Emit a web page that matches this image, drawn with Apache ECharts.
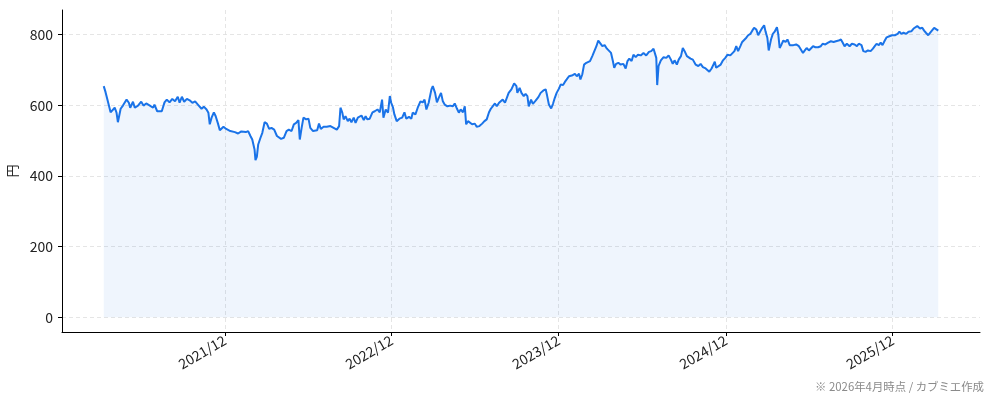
<!DOCTYPE html>
<html>
<head>
<meta charset="utf-8">
<script src="https://cdn.jsdelivr.net/npm/echarts@6/dist/echarts.min.js"></script>
<style>
html,body{margin:0;padding:0;background:#fff;}
#chart{width:994px;height:401px;}
</style>
</head>
<body>
<div id="chart"></div>
<script>
const dates = ['2021-03-11','2021-03-15','2021-03-20','2021-03-23','2021-03-26','2021-03-30','2021-04-04','2021-04-08','2021-04-11','2021-04-17','2021-04-22','2021-04-30','2021-05-05','2021-05-08','2021-05-14','2021-05-18','2021-05-25','2021-06-01','2021-06-06','2021-06-12','2021-06-20','2021-06-27','2021-06-30','2021-07-06','2021-07-10','2021-07-16','2021-07-22','2021-07-27','2021-08-02','2021-08-08','2021-08-14','2021-08-20','2021-08-24','2021-08-29','2021-09-03','2021-09-09','2021-09-15','2021-09-21','2021-09-27','2021-10-03','2021-10-07','2021-10-11','2021-10-16','2021-10-22','2021-10-26','2021-10-29','2021-11-02','2021-11-07','2021-11-11','2021-11-16','2021-11-20','2021-11-28','2021-12-04','2021-12-13','2021-12-23','2021-12-30','2022-01-06','2022-01-10','2022-01-16','2022-01-21','2022-01-26','2022-01-30','2022-02-04','2022-02-06','2022-02-09','2022-02-12','2022-02-17','2022-02-21','2022-02-26','2022-03-03','2022-03-08','2022-03-13','2022-03-19','2022-03-25','2022-03-29','2022-04-03','2022-04-09','2022-04-15','2022-04-20','2022-04-26','2022-05-01','2022-05-06','2022-05-11','2022-05-14','2022-05-18','2022-05-22','2022-05-28','2022-06-02','2022-06-06','2022-06-12','2022-06-16','2022-06-21','2022-06-25','2022-06-29','2022-07-05','2022-07-12','2022-07-20','2022-07-27','2022-08-03','2022-08-08','2022-08-11','2022-08-15','2022-08-18','2022-08-22','2022-08-27','2022-08-31','2022-09-04','2022-09-09','2022-09-13','2022-09-18','2022-09-22','2022-09-26','2022-10-01','2022-10-05','2022-10-09','2022-10-14','2022-10-20','2022-10-25','2022-10-31','2022-11-05','2022-11-10','2022-11-13','2022-11-18','2022-11-23','2022-11-27','2022-11-30','2022-12-04','2022-12-07','2022-12-12','2022-12-18','2022-12-24','2022-12-29','2023-01-02','2023-01-08','2023-01-13','2023-01-16','2023-01-22','2023-01-27','2023-02-02','2023-02-07','2023-02-11','2023-02-15','2023-02-20','2023-02-26','2023-03-01','2023-03-06','2023-03-10','2023-03-14','2023-03-19','2023-03-23','2023-03-27','2023-04-02','2023-04-08','2023-04-14','2023-04-18','2023-04-23','2023-04-27','2023-05-01','2023-05-06','2023-05-10','2023-05-13','2023-05-17','2023-05-20','2023-05-26','2023-06-01','2023-06-05','2023-06-11','2023-06-17','2023-06-22','2023-06-27','2023-07-02','2023-07-06','2023-07-10','2023-07-15','2023-07-19','2023-07-24','2023-07-28','2023-08-01','2023-08-06','2023-08-10','2023-08-14','2023-08-20','2023-08-26','2023-08-31','2023-09-02','2023-09-07','2023-09-11','2023-09-16','2023-09-20','2023-09-24','2023-09-27','2023-10-02','2023-10-06','2023-10-12','2023-10-18','2023-10-23','2023-10-29','2023-11-03','2023-11-06','2023-11-10','2023-11-15','2023-11-19','2023-11-23','2023-11-27','2023-12-02','2023-12-06','2023-12-11','2023-12-15','2023-12-19','2023-12-24','2023-12-28','2024-01-01','2024-01-06','2024-01-10','2024-01-15','2024-01-18','2024-01-22','2024-01-26','2024-01-31','2024-02-04','2024-02-08','2024-02-13','2024-02-17','2024-02-22','2024-02-26','2024-03-01','2024-03-06','2024-03-11','2024-03-16','2024-03-20','2024-03-25','2024-03-29','2024-04-01','2024-04-05','2024-04-10','2024-04-15','2024-04-21','2024-04-26','2024-04-30','2024-05-04','2024-05-09','2024-05-13','2024-05-18','2024-05-23','2024-05-29','2024-06-04','2024-06-10','2024-06-16','2024-06-21','2024-06-26','2024-06-30','2024-07-02','2024-07-04','2024-07-07','2024-07-12','2024-07-18','2024-07-24','2024-07-29','2024-08-03','2024-08-07','2024-08-11','2024-08-16','2024-08-20','2024-08-25','2024-08-29','2024-09-02','2024-09-07','2024-09-11','2024-09-15','2024-09-20','2024-09-26','2024-10-02','2024-10-07','2024-10-12','2024-10-18','2024-10-22','2024-10-26','2024-10-31','2024-11-04','2024-11-07','2024-11-10','2024-11-14','2024-11-20','2024-11-25','2024-11-30','2024-12-05','2024-12-11','2024-12-15','2024-12-20','2024-12-24','2024-12-28','2025-01-02','2025-01-06','2025-01-10','2025-01-15','2025-01-19','2025-01-24','2025-01-28','2025-02-01','2025-02-06','2025-02-10','2025-02-14','2025-02-19','2025-02-23','2025-02-26','2025-03-02','2025-03-05','2025-03-10','2025-03-14','2025-03-18','2025-03-23','2025-03-26','2025-03-29','2025-04-02','2025-04-06','2025-04-11','2025-04-15','2025-04-20','2025-04-24','2025-04-28','2025-05-04','2025-05-10','2025-05-14','2025-05-19','2025-05-23','2025-05-27','2025-06-01','2025-06-05','2025-06-10','2025-06-15','2025-06-21','2025-06-27','2025-07-01','2025-07-07','2025-07-13','2025-07-19','2025-07-25','2025-07-30','2025-08-05','2025-08-10','2025-08-14','2025-08-18','2025-08-23','2025-08-29','2025-09-03','2025-09-09','2025-09-14','2025-09-18','2025-09-24','2025-09-28','2025-10-03','2025-10-08','2025-10-14','2025-10-19','2025-10-23','2025-10-27','2025-11-01','2025-11-05','2025-11-09','2025-11-14','2025-11-18','2025-11-24','2025-11-30','2025-12-06','2025-12-12','2025-12-16','2025-12-20','2025-12-25','2025-12-31','2026-01-05','2026-01-11','2026-01-16','2026-01-20','2026-01-24','2026-01-27','2026-01-30','2026-02-04','2026-02-08','2026-02-12','2026-02-17','2026-02-21','2026-02-25','2026-03-02','2026-03-06','2026-03-11'];

const prices = [654,637,611,607,580,583,593,579,552,590,599,616,607,593,610,593,599,610,599,605,599,593,602,583,588,583,608,616,608,618,611,624,607,624,610,618,614,607,611,602,599,590,596,588,579,546,565,580,569,548,529,539,533,527,524,520,526,529,524,527,513,503,475,445,454,489,508,522,552,548,533,536,531,513,517,505,508,527,531,527,546,550,558,503,536,565,560,562,536,527,522,529,548,533,539,539,541,536,531,541,593,579,560,569,555,562,552,565,550,565,560,571,558,569,560,562,580,583,588,580,616,565,588,579,626,607,593,574,555,562,565,580,562,567,562,579,574,593,611,608,616,588,607,645,654,635,608,621,635,611,602,597,599,597,605,590,579,588,580,597,546,555,550,546,548,539,541,548,555,560,580,590,597,605,597,607,608,616,607,605,635,645,662,654,635,649,635,626,632,626,597,616,604,613,623,635,642,645,628,602,591,604,621,635,647,659,657,666,673,682,687,685,689,682,689,673,687,715,720,717,725,739,743,767,783,779,767,770,760,755,748,725,706,717,720,715,717,704,725,732,725,743,736,743,741,748,741,751,753,760,764,734,657,711,727,736,734,741,729,717,727,715,729,739,762,753,739,741,732,729,715,711,717,708,704,706,695,704,715,723,706,711,715,727,734,743,741,739,753,767,753,767,779,783,791,798,802,811,819,814,798,808,819,826,809,791,755,786,802,808,821,800,762,772,783,779,786,770,774,770,772,767,762,748,755,762,755,758,767,764,764,767,774,772,777,781,779,781,783,786,777,767,774,767,774,772,767,774,770,753,751,755,753,760,767,774,770,777,770,783,792,795,798,798,802,808,802,805,802,808,809,817,817,824,828,817,819,811,805,798,802,811,819,817,811];

const xTickDates = ['2021-12-01','2022-12-01','2023-12-01','2024-12-01','2025-12-01'];
const xTickLabels = ['2021/12','2022/12','2023/12','2024/12','2025/12'];
const yTicks = [0,200,400,600,800];
const yAxisName = '円';
const footnote = '※ 2026年4月時点 / カブミエ作成';

function ts(s){const p=s.split('-').map(Number);return new Date(p[0],p[1]-1,p[2]).getTime();}
const seriesData = dates.map((d,i)=>[ts(d),prices[i]]);
const t0 = ts(dates[0]), t1 = ts(dates[dates.length-1]);
const span = t1 - t0;
const pMax = Math.max(...prices);
const xTickVals = xTickDates.map(ts);
const FONT = '"Noto Sans CJK JP","Noto Sans",sans-serif';

const chart = echarts.init(document.getElementById('chart'), null, {renderer:'canvas'});
chart.setOption({
  animation:false,
  backgroundColor:'#ffffff',
  grid:{left:62,right:14,top:10,bottom:69,containLabel:false,outerBoundsMode:'none'},
  xAxis:{
    type:'value',
    scale:true,
    min:t0-span*0.05,
    max:t1+span*0.05,
    axisLine:{show:true,onZero:false,lineStyle:{color:'#000',width:1}},
    axisTick:{show:true,length:4,lineStyle:{color:'#000',width:1},customValues:xTickVals},
    axisLabel:{
      customValues:xTickVals,
      rotate:30,
      margin:7,
      color:'#222',
      fontSize:14,
      fontFamily:FONT,
      formatter:function(v){
        let best=0;
        for(let i=1;i<xTickVals.length;i++){ if(Math.abs(xTickVals[i]-v)<Math.abs(xTickVals[best]-v)) best=i; }
        return xTickLabels[best];
      }
    },
    splitLine:{show:true,lineStyle:{color:'#dedede',width:0.8,type:[4,3]}}
  },
  yAxis:{
    type:'value',
    min:-pMax*0.05,
    max:pMax*1.05,
    name:yAxisName,
    nameLocation:'middle',
    nameRotate:90,
    nameGap:39,
    nameTextStyle:{color:'#222',fontSize:13,fontFamily:FONT},
    axisLine:{show:true,lineStyle:{color:'#000',width:1}},
    axisTick:{show:true,length:4,lineStyle:{color:'#000',width:1},customValues:yTicks},
    axisLabel:{customValues:yTicks,color:'#222',fontSize:14,fontFamily:FONT,margin:9},
    splitLine:{show:true,lineStyle:{color:'#dedede',width:0.8,type:[4,3]}}
  },
  series:[{
    type:'line',
    data:seriesData,
    showSymbol:false,
    symbol:'none',
    lineStyle:{color:'#1a73e8',width:2},
    areaStyle:{color:'rgba(26,115,232,0.1)'},
    z:3
  }],
  graphic:[{
    type:'text',
    right:10,
    bottom:9,
    style:{text:footnote,fill:'#8a8a8a',font:'11.4px '+FONT}
  }]
});
</script>
</body>
</html>
